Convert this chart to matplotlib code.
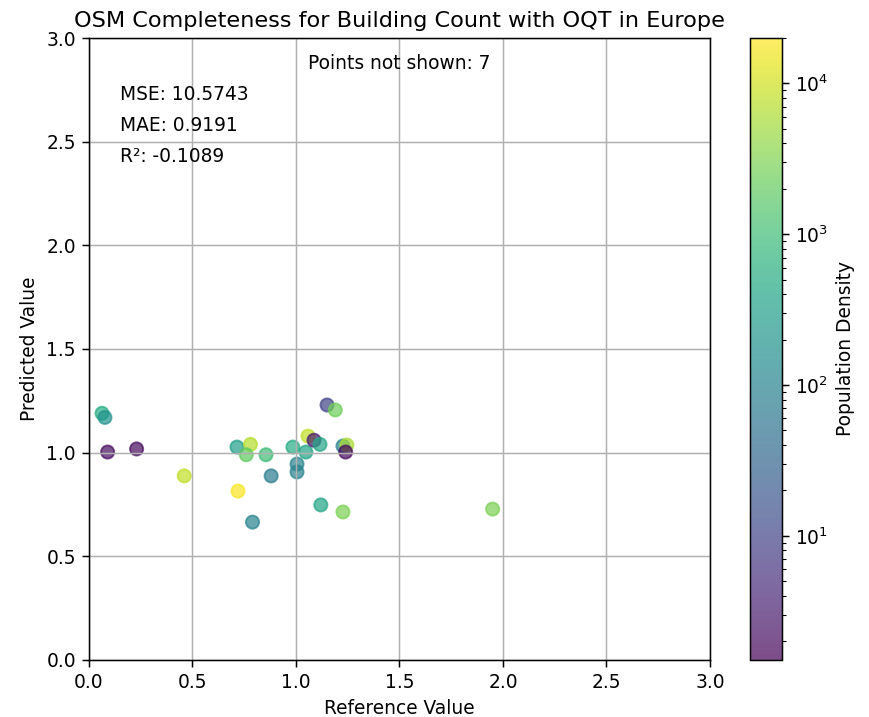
import numpy as np
import matplotlib
matplotlib.use("Agg")
import matplotlib.pyplot as plt
from matplotlib.colors import LogNorm

# reference vs predicted completeness, coloured by population density
ref_vals = [0.063, 0.077, 0.09, 0.23, 0.46, 0.715, 0.78, 0.76, 0.72, 0.79,
            0.855, 0.88, 0.985, 1.005, 1.005, 1.048, 1.058, 1.087, 1.116, 1.12,
            1.15, 1.19, 1.227, 1.246, 1.24, 1.227, 1.95]
pred_vals = [1.19, 1.17, 1.003, 1.018, 0.888, 1.027, 1.04, 0.99, 0.815, 0.665,
             0.99, 0.888, 1.027, 0.945, 0.907, 1.003, 1.08, 1.06, 1.04, 0.748,
             1.23, 1.206, 1.032, 1.037, 1.003, 0.714, 0.728]
pop_density = [500, 200, 2, 2, 8000, 300, 7000, 2000, 18000, 100,
               1000, 80, 500, 100, 100, 400, 8000, 3, 400, 400,
               10, 2500, 100, 6000, 2, 3000, 3000]

mse, mae, r2 = 10.5743, 0.9191, -0.1089
not_shown = 7

dpi = 134
fig = plt.figure(figsize=(869 / dpi, 717 / dpi), dpi=dpi)
ax = fig.add_axes([0.1024, 0.0795, 0.7146, 0.8675])
cax = fig.add_axes([0.863, 0.0795, 0.0368, 0.8675])

sc = ax.scatter(ref_vals, pred_vals, c=pop_density, cmap='viridis',
                norm=LogNorm(vmin=1.5, vmax=20000), alpha=0.7, s=50)
ax.set_xlim(0, 3)
ax.set_ylim(0, 3)
ax.grid(True)
ax.set_xlabel('Reference Value')
ax.set_ylabel('Predicted Value')
ax.set_title('OSM Completeness for Building Count with OQT in Europe')

ax.text(0.5, 0.95, f'Points not shown: {not_shown}', transform=ax.transAxes, ha='center')
ax.text(0.05, 0.9, f'MSE: {mse:.4f}', transform=ax.transAxes)
ax.text(0.05, 0.85, f'MAE: {mae:.4f}', transform=ax.transAxes)
ax.text(0.05, 0.8, f'R²: {r2:.4f}', transform=ax.transAxes)

cb = fig.colorbar(sc, cax=cax)
cb.set_label('Population Density')

fig.savefig('out.png', dpi=dpi)
